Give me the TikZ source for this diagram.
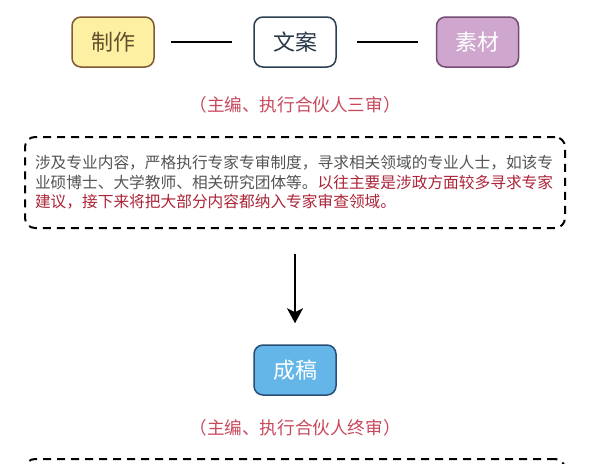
\documentclass[tikz,border=0pt]{standalone}
\usepackage{fontspec}
\setmainfont{Noto Sans CJK SC}
\usetikzlibrary{arrows.meta}
\definecolor{zzfill}{RGB}{254,240,162}
\definecolor{zzdraw}{RGB}{128,88,52}
\definecolor{zztext}{RGB}{98,80,44}
\definecolor{waDraw}{RGB}{44,62,82}
\definecolor{waText}{RGB}{40,56,72}
\definecolor{scFill}{RGB}{206,166,206}
\definecolor{scDraw}{RGB}{116,76,116}
\definecolor{cgFill}{RGB}{100,182,232}
\definecolor{cgDraw}{RGB}{40,78,118}
\definecolor{lblRed}{RGB}{200,72,92}
\definecolor{bodyGray}{RGB}{84,84,84}
\definecolor{bodyRed}{RGB}{172,36,56}
\begin{document}
\begin{tikzpicture}[x=1pt,y=-1pt,
  box/.style={rounded corners=9pt,line width=1.5pt,minimum width=82pt,minimum height=50pt,
    inner sep=0pt,font=\fontsize{22}{24}\selectfont},
  joinline/.style={line width=2pt,black},
  lbl/.style={text=lblRed,font=\fontsize{17.6}{20}\selectfont,inner sep=0pt},
  dashbox/.style={draw=black,line width=2pt,dash pattern=on 8pt off 6pt,rounded corners=10pt},
  arrowline/.style={line width=1.6pt,-{Stealth[length=15pt,width=16pt,inset=4pt]}}
]
\useasboundingbox (0,0) rectangle (602,463);
\node[box,draw=zzdraw,fill=zzfill,text=zztext] (zz) at (113,42) {制作};
\node[box,draw=waDraw,fill=white,text=waText] (wa) at (295,42) {文案};
\node[box,draw=scDraw,fill=scFill,text=white] (sc) at (477.5,42) {素材};
\draw[joinline,shorten <=16pt,shorten >=21pt] (zz) -- (wa);
\draw[joinline,shorten <=20pt,shorten >=18pt] (wa) -- (sc);
\node[lbl] (l1) at (295,105) {（主编、执行合伙人三审）};
\node[dashbox,minimum width=540pt,minimum height=91pt,inner sep=0pt,text width=520pt,align=left,
  font=\fontsize{15.7}{19.5}\selectfont] (note) at (295,182.5)
  {\textcolor{bodyGray}{涉及专业内容，严格执行专家专审制度，寻求相关领域的专业人士，如该专}\\
   \textcolor{bodyGray}{业硕博士、大学教师、相关研究团体等。}\textcolor{bodyRed}{以往主要是涉政方面较多寻求专家}\\
   \textcolor{bodyRed}{建议，接下来将把大部分内容都纳入专家审查领域。}};
\node[box,draw=cgDraw,fill=cgFill,text=white] (cg) at (295,370) {成稿};
\draw[arrowline,shorten <=25pt,shorten >=21pt] (note.south) -- (cg.north);
\node[lbl] (l2) at (295,428) {（主编、执行合伙人终审）};
\node[dashbox,minimum width=540pt,minimum height=100pt] (next) at (295,509) {};
\end{tikzpicture}
\end{document}
